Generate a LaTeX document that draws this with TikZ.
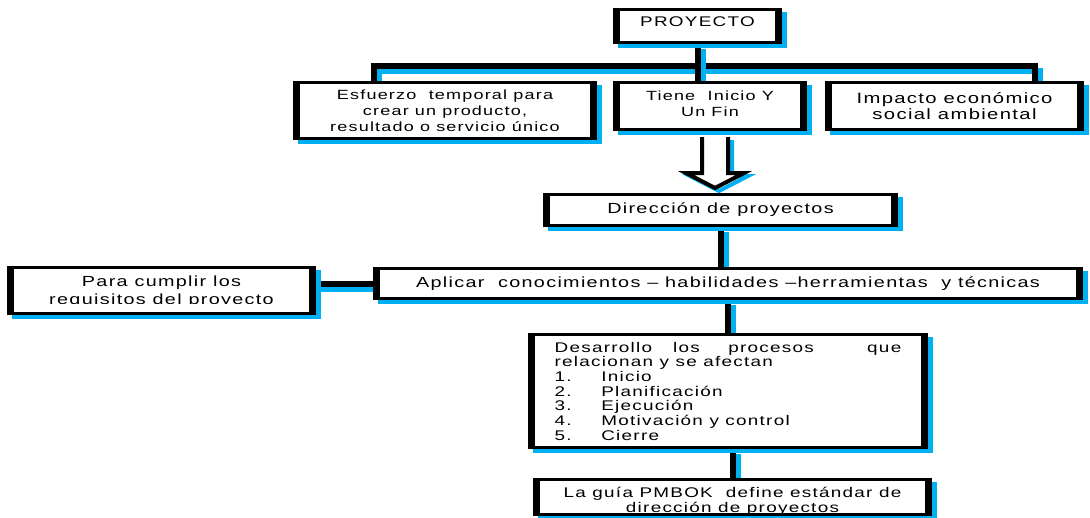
\documentclass[tikz,border=0pt]{standalone}
\usepackage{fontspec}
\setmainfont[FakeStretch=1.35, LetterSpace=9]{Liberation Sans}
\usetikzlibrary{calc}
\definecolor{skyline}{RGB}{0,176,240}
\def\px{0.75pt}
\pgfdeclarelayer{links}
\pgfsetlayers{links,main}
\tikzset{
  panel/.style={draw=black, fill=white, line width=3*\px, inner sep=0pt, align=center,
    preaction={fill=skyline, draw=skyline, line width=3*\px, path picture={},
      transform canvas={xshift=5*\px, yshift=-4*\px}},
    path picture={
      \draw[line width=11*\px]
        (path picture bounding box.south west) -- (path picture bounding box.north west)
        (path picture bounding box.south east) -- (path picture bounding box.north east);
      \draw[line width=4*\px]
        (path picture bounding box.south west) -- (path picture bounding box.south east);
    }},
  link/.style={draw=black, line width=6*\px,
    preaction={draw=skyline, line width=6*\px, transform canvas={xshift=5*\px, yshift=-5*\px}}},
  hollow/.style={draw=black, fill=white, line width=4*\px, line join=miter,
    preaction={draw=skyline, line width=4*\px, transform canvas={xshift=4*\px, yshift=-3*\px}}},
  txt/.style={font=\fontsize{10}{12}\selectfont},
  bigtxt/.style={font=\fontsize{11}{13.5}\selectfont},
}
\newcommand\itemno[1]{\makebox[35pt][l]{#1.}}
\newcommand\lowered[1]{\raisebox{-3pt}[\height][\depth]{#1}}
\begin{document}
\begin{tikzpicture}[x=0.75pt, y=-0.75pt]
\useasboundingbox (0,0) rectangle (1090,518);

% boxes
\node[panel, font=\fontsize{10.5}{12}\selectfont, minimum width=166*\px, minimum height=33*\px]
  (proj) at (697.5,26) {\raisebox{3pt}[\height][\depth]{PROYECTO}};
\node[panel, txt, minimum width=301*\px, minimum height=56*\px]
  (esf) at (445,110.5) {Esfuerzo\ \ temporal para\\crear un producto,\\resultado o servicio único};
\node[panel, txt, minimum width=191*\px, minimum height=47*\px]
  (tie) at (710,106) {\raisebox{2pt}[\height][\depth]{Tiene\ \ Inicio Y}\\\raisebox{2pt}[\height][\depth]{Un Fin}};
\node[panel, font=\fontsize{11.25}{12}\selectfont, minimum width=256*\px, minimum height=47*\px]
  (imp) at (954.5,106) {Impacto económico\\social ambiental};
\node[panel, bigtxt, minimum width=352*\px, minimum height=31*\px]
  (dir) at (720.5,210) {Dirección de proyectos};
\node[panel, bigtxt, minimum width=707*\px, minimum height=30*\px]
  (apl) at (728,283.5) {Aplicar\ \ conocimientos – habilidades –herramientas\ \ y técnicas};
\node[panel, minimum width=306*\px, minimum height=46*\px]
  (req) at (161.5,290.5) {};
\coordinate (cut) at (0,303);
\begin{scope}
  \clip (req.north west) rectangle (req.east |- cut);
  \node[bigtxt, align=center, inner sep=0pt] (reqtxt) at (161.5,292) {Para cumplir los\\requisitos del proyecto};
\end{scope}
\node[panel, font=\fontsize{10.5}{11}\selectfont, align=left,
  minimum width=397*\px, minimum height=113*\px]
  (dev) at (728,391) {\makebox[260pt]{Desarrollo\hspace{0pt plus 17fill}los\hspace{0pt plus 23fill}procesos\hspace{0pt plus 43fill}que}\\
    relacionan y se afectan\\
    \itemno{1}Inicio\\
    \itemno{2}Planificación\\
    \itemno{3}Ejecución\\
    \itemno{4}Motivación y control\\
    \itemno{5}Cierre};
\node[panel, font=\fontsize{10.5}{11.25}\selectfont, minimum width=396*\px, minimum height=35*\px]
  (pmb) at (732.5,497) {\lowered{La guía PMBOK\ \ define estándar de}\\\lowered{dirección de proyectos}};

% connectors
\coordinate (busL) at (374,66);
\coordinate (busR) at (1035,66);
\begin{pgfonlayer}{links}
  \draw[link] (busL |- esf.north) -- (busL) -- (busR) -- (busR |- imp.north);
  \draw[link] (proj.south) -- (proj.south |- tie.north);
  \draw[link] (dir.south) -- (dir.south |- apl.north);
  \draw[link] (req.east |- apl.west) -- (apl.west);
  \draw[link] (apl.south) -- (dev.north);
  \draw[link] (dev.south -| pmb.north) -- (pmb.north);
\end{pgfonlayer}

% hollow arrow from the middle row to the management box
\coordinate (arrtop) at (715,137);
\coordinate (arrtip) at (715,188);
\draw[hollow] (arrtop) ++(-13,0) -- ++(0,36) -- ++(-16,0) -- (arrtip) -- ++(29,-15) -- ++(-16,0) -- ++(0,-36);
\end{tikzpicture}
\end{document}
